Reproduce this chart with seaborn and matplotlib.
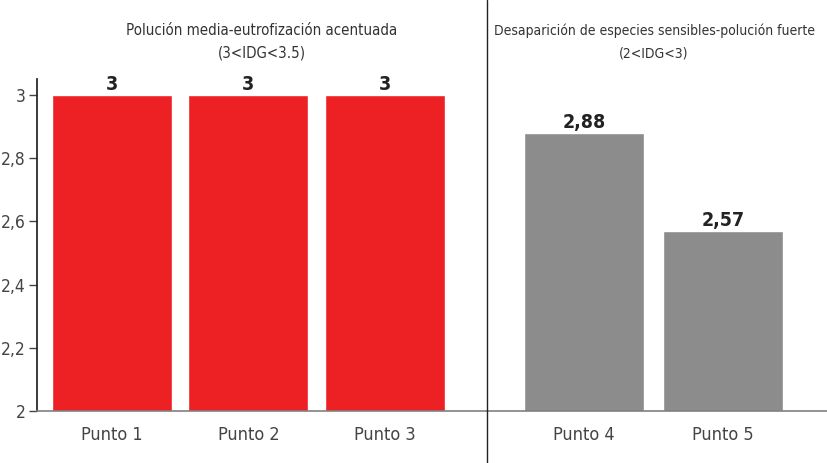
import matplotlib
matplotlib.use("Agg")
from matplotlib import pyplot as plt
from matplotlib.lines import Line2D
import seaborn as sns

# data
left_cats = ["Punto 1", "Punto 2", "Punto 3"]
left_vals = [3.0, 3.0, 3.0]
right_cats = ["Punto 4", "Punto 5"]
right_vals = [2.88, 2.57]
left_title = "Polución media-eutrofización acentuada\n(3<IDG<3.5)"
right_title = "Desaparición de especies sensibles-polución fuerte\n(2<IDG<3)"
yticks = [2, 2.2, 2.4, 2.6, 2.8, 3]


def fmt(v):
    s = f"{v:.2f}".rstrip("0").rstrip(".")
    return s.replace(".", ",")


sns.set_theme(style="white")
plt.rcParams["font.family"] = ["DejaVu Sans"]
plt.rcParams["font.stretch"] = "condensed"

fig = plt.figure(figsize=(8.27, 4.63), dpi=100)
W, H = 827, 463
bottom = 1 - 411 / H
height = 331.8 / H
ax1 = fig.add_axes([37 / W, bottom, 450 / W, height])
ax2 = fig.add_axes([487 / W, bottom, 340 / W, height])

sns.barplot(x=left_cats, y=left_vals, ax=ax1, color="#ED2024", saturation=1, width=0.88)
sns.barplot(x=right_cats, y=right_vals, ax=ax2, color="#8C8C8C", saturation=1, width=0.863)

ax1.set_xlim(-0.55, 2.75)
ax2.set_xlim(-0.70, 1.75)

for ax, vals in [(ax1, left_vals), (ax2, right_vals)]:
    ax.set_ylim(2, 3.05)
    for sp in ["top", "right"]:
        ax.spines[sp].set_visible(False)
    ax.spines["bottom"].set_color("#808080")
    ax.spines["bottom"].set_linewidth(1.2)
    ax.tick_params(axis="x", length=0, labelsize=13, labelcolor="#444444", pad=11)
    for i, v in enumerate(vals):
        ax.text(i, v + 0.004, fmt(v), ha="center", va="bottom",
                fontsize=14, fontweight="bold", color="#222222")

ax1.spines["left"].set_color("#222222")
ax1.set_yticks(yticks)
ax1.set_yticklabels([fmt(t) for t in yticks])
ax1.tick_params(axis="y", left=True, length=6, width=1, color="#444444",
                labelsize=12.5, labelcolor="#444444", pad=2)
ax2.spines["left"].set_visible(False)
ax2.set_yticks([])

fig.text(262 / W, 1 - 42 / H, left_title, ha="center", va="center",
         fontsize=10.8, color="#333333", linespacing=1.65)
fig.text(654 / W, 1 - 42 / H, right_title, ha="center", va="center",
         fontsize=10, color="#333333", linespacing=1.75)

fig.add_artist(Line2D([487 / W, 487 / W], [0, 1], transform=fig.transFigure,
                      color="#222222", linewidth=1))

fig.savefig("out.png", dpi=100)
